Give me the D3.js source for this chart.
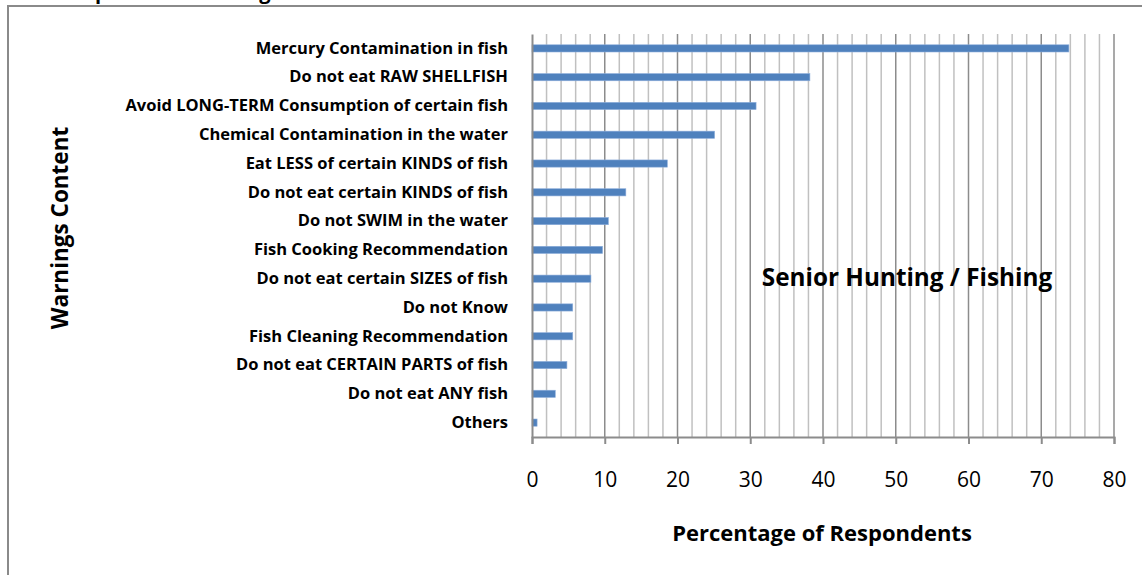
<!DOCTYPE html>
<html>
<head>
<meta charset="utf-8">
<script src="https://cdn.jsdelivr.net/npm/d3@7"></script>
<style>
  body { margin: 0; background: #fff; }
  svg { display: block; font-family: "Open Sans", Lato, sans-serif; }
</style>
</head>
<body>
<svg id="chart" width="1142" height="575"></svg>
<script>
// warnings content, top to bottom
const categories = [
  'Mercury Contamination in fish',
  'Do not eat RAW SHELLFISH',
  'Avoid LONG-TERM Consumption of certain fish',
  'Chemical Contamination in the water',
  'Eat LESS of certain KINDS of fish',
  'Do not eat certain KINDS of fish',
  'Do not SWIM in the water',
  'Fish Cooking Recommendation',
  'Do not eat certain SIZES of fish',
  'Do not Know',
  'Fish Cleaning Recommendation',
  'Do not eat CERTAIN PARTS of fish',
  'Do not eat ANY fish',
  'Others'
]
const values = [73.8, 38.2, 30.8, 25.1, 18.6, 12.9, 10.5, 9.7, 8.1, 5.6, 5.6, 4.8, 3.2, 0.7]
const xTicks = [0, 10, 20, 30, 40, 50, 60, 70, 80]
const minorTicks = d3.range(0, 81, 2)

const svg = d3.select('#chart')
const margin = { left: 532, right: 28, top: 34, bottom: 138 }
const width = 1142 - margin.left - margin.right
const height = 575 - margin.top - margin.bottom

// outer chart frame (runs past the bottom edge)
svg.append('rect')
  .attr('x', 8).attr('y', 6)
  .attr('width', 1142).attr('height', 600)
  .attr('fill', 'none')
  .attr('stroke', '#8a8a8a')
  .attr('stroke-width', 2)

// title, mostly cut off at the top
svg.append('text')
  .attr('x', 60).attr('y', -1)
  .attr('font-weight', 'bold')
  .attr('font-size', 20)
  .text('Response to Warnings')

const x = d3.scaleLinear().domain([0, 80]).range([0, width])
const y = d3.scaleBand().domain(categories).range([0, height]).paddingInner(0.75).paddingOuter(0.375)

const g = svg.append('g').attr('transform', `translate(${margin.left},${margin.top})`)

// minor + major gridlines
g.selectAll('.minor')
  .data(minorTicks.filter(d => d % 10 !== 0))
  .enter()
  .append('line')
  .attr('x1', d => x(d)).attr('x2', d => x(d))
  .attr('y1', 0).attr('y2', height)
  .attr('stroke', '#c0c0c0')
  .attr('stroke-width', 1.5)

g.selectAll('.major')
  .data(xTicks.slice(1))
  .enter()
  .append('line')
  .attr('x1', d => x(d)).attr('x2', d => x(d))
  .attr('y1', 0).attr('y2', height)
  .attr('stroke', '#8c8c8c')
  .attr('stroke-width', 1.5)

// bars
g.selectAll('.bar')
  .data(values)
  .enter()
  .append('rect')
  .attr('x', 0)
  .attr('y', (d, i) => y(categories[i]))
  .attr('width', d => x(d))
  .attr('height', y.bandwidth())
  .attr('fill', '#4f81bd')
  .attr('stroke', '#8eaedb')
  .attr('stroke-width', 0.6)

// x axis
const xAxis = g.append('g')
  .attr('transform', `translate(0,${height})`)
  .call(d3.axisBottom(x).tickValues(xTicks).tickSize(7).tickPadding(43))
xAxis.select('.domain').attr('stroke', '#8c8c8c').attr('stroke-width', 2)
xAxis.selectAll('.tick line').attr('stroke', '#8c8c8c').attr('stroke-width', 2)
xAxis.selectAll('.tick text')
  .attr('font-family', '"Open Sans", sans-serif')
  .attr('font-size', 21)
  .attr('dy', 0)
  .attr('fill', '#000')

// y axis
const yAxis = g.append('g')
  .call(d3.axisLeft(y).tickSize(0).tickPadding(24))
yAxis.select('.domain').attr('stroke', '#8c8c8c').attr('stroke-width', 2)
yAxis.selectAll('.tick text')
  .attr('font-family', '"Open Sans", sans-serif')
  .attr('font-weight', 'bold')
  .attr('font-size', 16.5)
  .attr('fill', '#000')

// axis titles
svg.append('text')
  .attr('transform', 'translate(68,228) rotate(-90)')
  .attr('text-anchor', 'middle')
  .attr('font-weight', 'bold')
  .attr('font-size', 22.5)
  .text('Warnings Content')

svg.append('text')
  .attr('x', 822).attr('y', 541)
  .attr('text-anchor', 'middle')
  .attr('font-weight', 'bold')
  .attr('font-size', 22)
  .text('Percentage of Respondents')

svg.append('text')
  .attr('x', 907).attr('y', 286)
  .attr('text-anchor', 'middle')
  .attr('font-weight', 'bold')
  .attr('font-size', 24.3)
  .text('Senior Hunting / Fishing')
</script>
</body>
</html>
